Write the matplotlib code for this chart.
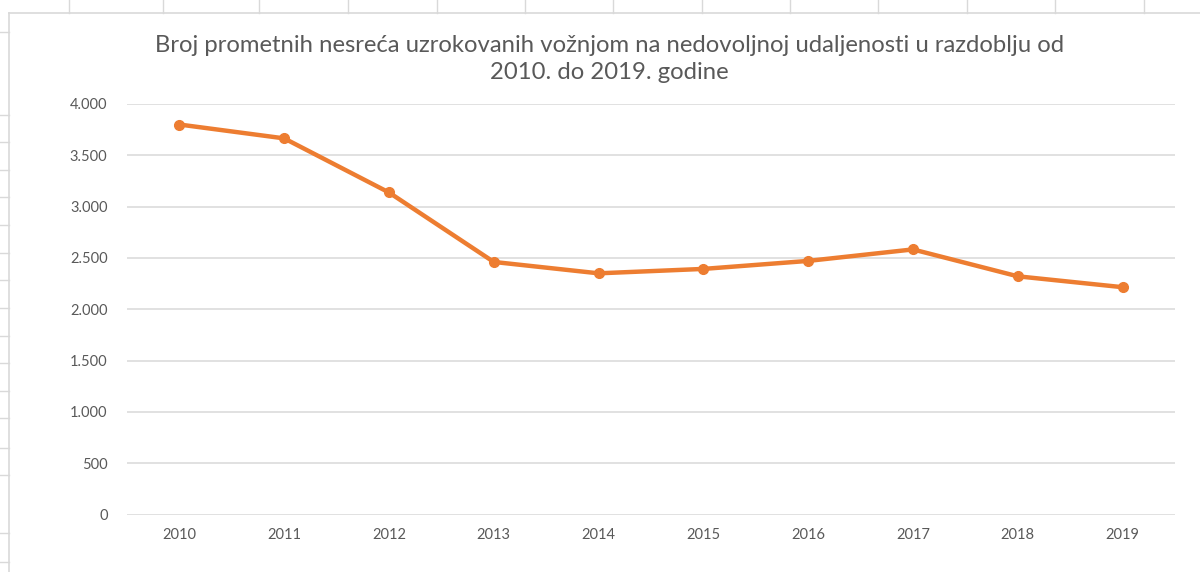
import matplotlib
matplotlib.use("Agg")
import matplotlib.pyplot as plt
from matplotlib.lines import Line2D
from matplotlib.ticker import FuncFormatter

years = ["2010", "2011", "2012", "2013", "2014", "2015", "2016", "2017", "2018", "2019"]
accidents = [3800, 3665, 3138, 2461, 2350, 2393, 2471, 2583, 2321, 2215]
y_ticks = [0, 500, 1000, 1500, 2000, 2500, 3000, 3500, 4000]

TITLE = ("Broj prometnih nesreća uzrokovanih vožnjom na nedovoljnoj udaljenosti u razdoblju od\n"
         "2010. do 2019. godine")

plt.rcParams["font.family"] = ["Lato", "DejaVu Sans"]
TEXT_GREY = "#595959"
GRID_GREY = "#d9d9d9"
ORANGE = "#ed7d31"

fig = plt.figure(figsize=(12, 5.72), dpi=100)
ax = fig.add_axes([0.1058, 0.1005, 0.8733, 0.7177])

x = list(range(len(years)))
ax.plot(x, accidents, color=ORANGE, linewidth=3.2, marker="o", markersize=7,
        solid_capstyle="round", zorder=3)

ax.set_xlim(-0.5, len(years) - 0.5)
ax.set_ylim(0, 4000)
ax.set_xticks(x)
ax.set_xticklabels(years)
ax.set_yticks(y_ticks)
ax.yaxis.set_major_formatter(FuncFormatter(lambda v, _: f"{int(v):,}".replace(",", ".")))

ax.grid(axis="y", color=GRID_GREY, linewidth=1.1)
ax.set_axisbelow(True)
for s in ax.spines.values():
    s.set_visible(False)
ax.tick_params(axis="both", length=0, colors=TEXT_GREY, labelsize=10.5)
ax.tick_params(axis="x", pad=10)
ax.tick_params(axis="y", pad=14)

fig.text(0.508, 0.897, TITLE, ha="center", va="center", fontsize=17.2,
         color=TEXT_GREY, linespacing=1.4)

# spreadsheet border / cell marks around the chart object
fig.add_artist(Line2D([9 / 1200, 1], [1 - 13 / 572, 1 - 13 / 572], color=GRID_GREY, lw=1.2))
fig.add_artist(Line2D([9 / 1200, 9 / 1200], [0, 1 - 13 / 572], color=GRID_GREY, lw=1.2))
for px in [69, 163, 259, 348, 437, 525, 613, 702, 790, 878, 967, 1055, 1144]:
    fig.add_artist(Line2D([px / 1200, px / 1200], [1, 1 - 13 / 572], color=GRID_GREY, lw=1))
for py in [32, 115, 142, 170, 197, 225, 253, 280, 308, 336, 363, 391, 418, 448, 475, 533, 562]:
    fig.add_artist(Line2D([0, 9 / 1200], [1 - py / 572, 1 - py / 572], color=GRID_GREY, lw=1))

fig.savefig("out.png", dpi=100, facecolor="white")
